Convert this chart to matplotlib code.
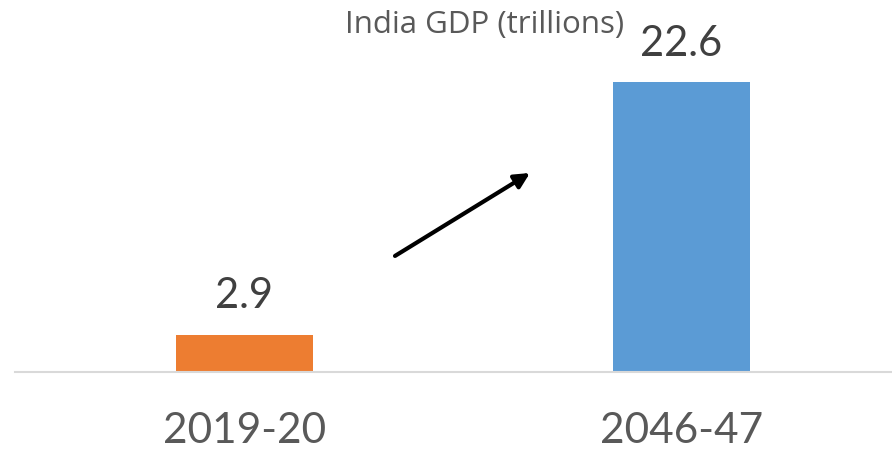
import matplotlib
matplotlib.use("Agg")
import matplotlib.pyplot as plt
from matplotlib import font_manager

periods = ["2019-20", "2046-47"]
gdp_trillions = [2.9, 22.6]
bar_colors = ["#ED7D31", "#5B9BD5"]
title = "India GDP (trillions)"

names = {f.name for f in font_manager.fontManager.ttflist}
narrow = "Liberation Sans Narrow" if "Liberation Sans Narrow" in names else "Lato"

fig = plt.figure(figsize=(8.92, 4.53), dpi=100)
ax = fig.add_axes([15 / 892, 81 / 453, 877 / 892, 372 / 453])

x = range(len(periods))
bars = ax.bar(x, gdp_trillions, width=0.3135, color=bar_colors, zorder=2)

ax.set_xlim(-0.525, 1.482)
ax.set_ylim(0, 29)

for spine in ("top", "right", "left"):
    ax.spines[spine].set_visible(False)
ax.spines["bottom"].set_color("#D9D9D9")
ax.spines["bottom"].set_linewidth(1.5)
ax.set_yticks([])
ax.set_xticks(list(x))
ax.set_xticklabels(periods, fontsize=30.5, color="#595959", family=narrow)
ax.tick_params(axis="x", length=0, pad=29)

for rect, val in zip(bars, gdp_trillions):
    ax.annotate(f"{val:g}", (rect.get_x() + rect.get_width() / 2, val),
                xytext=(0, 14), textcoords="offset points",
                ha="center", va="bottom", fontsize=30, color="#404040",
                family=narrow)

fig.text(485 / 892, 1 - 25 / 453, title, ha="center", va="center",
         fontsize=22.5, color="#595959", family="Open Sans")

ax.annotate("", xy=(0.5872, 0.535), xytext=(0.4333, 0.312),
            xycoords="axes fraction", textcoords="axes fraction",
            arrowprops=dict(arrowstyle="-|>,head_length=0.9,head_width=0.45",
                            color="black", lw=3, shrinkA=0, shrinkB=0))

fig.savefig("out.png", dpi=100)
